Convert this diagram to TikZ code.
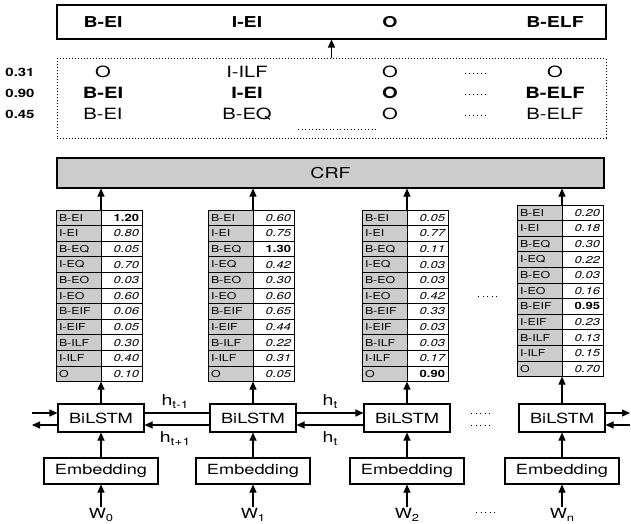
\documentclass[tikz,border=0pt]{standalone}
\usepackage{fontspec}
\setmainfont{TeX Gyre Heros}[FakeStretch=1.3]
\usetikzlibrary{arrows.meta}
\definecolor{cellgray}{HTML}{CCCCCC}
\newcommand{\fs}[1]{\fontsize{#1}{#1}\selectfont}
\begin{document}
\begin{tikzpicture}[x=1pt,y=-1pt,
  arr/.style={-{Triangle[length=8pt,width=7pt]}, line width=1.1pt},
  plainline/.style={line width=1.1pt},
  boxed/.style={draw, line width=1.1pt, inner sep=0pt},
  lcell/.style={draw, line width=0.8pt, fill=cellgray, inner xsep=3pt, inner ysep=0pt,
     text width=39pt, align=left, minimum height=15.6pt, font=\fs{9.5}},
  vcell/.style={draw, line width=0.8pt, fill=white, inner xsep=3pt, inner ysep=0pt,
     text width=35pt, align=right, minimum height=15.6pt, font=\fs{10}},
  ell/.style={line width=1pt, dash pattern=on 1pt off 3.5pt},
  toplbl/.style={font=\fs{15}\bfseries, inner sep=0pt},
  rowlbl/.style={font=\fs{15.5}, inner sep=0pt},
  score/.style={font=\fs{11.5}\bfseries, inner sep=0pt},
  lstm/.style={boxed, minimum width=86pt, minimum height=28pt, font=\fs{14}},
  emb/.style={boxed, minimum width=114pt, minimum height=26pt, font=\fs{14}},
  wlbl/.style={font=\fs{14}, inner sep=1pt},
  hlbl/.style={font=\fs{15}, inner sep=0pt}
]
\useasboundingbox (0,0) rectangle (631,524);

% ---------- output box ----------
\node[boxed, minimum width=549pt, minimum height=34pt] (top) at (331.5,22) {};
\node[toplbl] (o1) at (103,22) {B-EI};
\node[toplbl] (o2) at (247,22) {I-EI};
\node[toplbl] (o3) at (390,22) {O};
\node[toplbl] (o4) at (555,22) {B-ELF};

% ---------- candidate paths ----------
\node[draw, dotted, line width=1pt, minimum width=549pt, minimum height=79pt, inner sep=0pt] (beam) at (331.5,98.5) {};
\draw[arr] (beam.north) -- (top.south);

\node[score] (s1) at (20,72) {0.31};
\node[score] (s2) at (20,93) {0.90};
\node[score] (s3) at (20,114) {0.45};

\node[rowlbl] (r11) at (103,72) {O};
\node[rowlbl] (r12) at (247,72) {I-ILF};
\node[rowlbl] (r13) at (390,72) {O};
\node[rowlbl] (r14) at (555,72) {O};
\node[rowlbl, font=\fs{15.5}\bfseries] (r21) at (103,93) {B-EI};
\node[rowlbl, font=\fs{15.5}\bfseries] (r22) at (247,93) {I-EI};
\node[rowlbl, font=\fs{15.5}\bfseries] (r23) at (390,93) {O};
\node[rowlbl, font=\fs{15.5}\bfseries] (r24) at (555,93) {B-ELF};
\node[rowlbl] (r31) at (103,114) {B-EI};
\node[rowlbl] (r32) at (247,114) {B-EQ};
\node[rowlbl] (r33) at (390,114) {O};
\node[rowlbl] (r34) at (555,114) {B-ELF};

\foreach \yy in {72,93,114} \draw[line width=0.9pt, dash pattern=on 1pt off 3pt] (465,\yy+1) -- (487,\yy+1);
\draw[line width=0.9pt, dash pattern=on 1pt off 2.5pt] (298,129) -- (376,129);

% ---------- CRF ----------
\node[boxed, fill=cellgray, minimum width=547pt, minimum height=30pt, font=\fs{15}] (crf) at (330.5,173) {CRF};

% ---------- tables ----------
\foreach \k/\c/\t/\b/\vals in {
   1/101/210/1/{1.20,0.80,0.05,0.70,0.03,0.60,0.06,0.05,0.30,0.40,0.10},
   2/253/210/3/{0.60,0.75,1.30,0.42,0.30,0.60,0.65,0.44,0.22,0.31,0.05},
   3/407/210/11/{0.05,0.77,0.11,0.03,0.03,0.42,0.33,0.03,0.03,0.17,0.90},
   4/562/205/7/{0.20,0.18,0.30,0.22,0.03,0.16,0.95,0.23,0.13,0.15,0.70}} {
  \foreach \lab [count=\i] in {B-EI,I-EI,B-EQ,I-EQ,B-EO,I-EO,B-EIF,I-EIF,B-ILF,I-ILF,O} {
    \node[lcell] (L\k-\i) at (\c-22.5,\t+\i*15.6-7.8) {\lab};
  }
  \foreach \v [count=\i] in \vals {
    \ifnum\i=\b
      \node[vcell] (V\k-\i) at (\c+20.5,\t+\i*15.6-7.8) {\bfseries\v};
    \else
      \node[vcell] (V\k-\i) at (\c+20.5,\t+\i*15.6-7.8) {\itshape\v};
    \fi
  }
  \coordinate (tt\k) at (\c,\t);
  \coordinate (tb\k) at (\c,\t+171.6);
}
\draw[ell] (478,296) -- (500,296);

% ---------- BiLSTM / Embedding / words ----------
\foreach \k/\c/\w in {1/101/0,2/253/1,3/407/2,4/562/n} {
  \node[lstm] (bi\k) at (\c,418) {BiLSTM};
  \node[emb] (em\k) at (\c,471) {Embedding};
  \node[wlbl] (w\k) at (\c,515) {W\raisebox{-2.5pt}{\fs{10}\w}};
  \draw[arr] (w\k) -- (em\k);
  \draw[arr] (em\k) -- (bi\k);
  \draw[arr] (bi\k.north) -- (tb\k);
  \draw[arr] (tt\k) -- (tt\k |- crf.south);
}
\draw[ell] (476,512) -- (498,512);

% horizontal connections
\coordinate (inL) at (32,413);
\coordinate (outL) at (32,425);
\coordinate (inR) at (630,413);
\coordinate (outR) at (630,425);
\draw[arr] (inL) -- (inL -| bi1.west);
\draw[arr] (bi1.west |- outL) -- (outL);
\draw[plainline] (bi1.east |- inL) -- (bi2.west |- inL);
\draw[arr] (bi2.west |- outL) -- (bi1.east |- outL);
\draw[arr] (bi2.east |- inL) -- (bi3.west |- inL);
\draw[arr] (bi3.west |- outL) -- (bi2.east |- outL);
\draw[arr] (bi4.east |- inR) -- (inR);
\draw[arr] (outR) -- (bi4.east |- outR);
\draw[ell] (471,413) -- (493,413);
\draw[ell] (471,425) -- (493,425);

\node[hlbl] (h1) at (175,402) {h\raisebox{-3pt}{\fs{10.5}t-1}};
\node[hlbl] (h2) at (175,439) {h\raisebox{-3pt}{\fs{10.5}t+1}};
\node[hlbl] (h3) at (330,402) {h\raisebox{-3pt}{\fs{10.5}t}};
\node[hlbl] (h4) at (330,439) {h\raisebox{-3pt}{\fs{10.5}t}};
\end{tikzpicture}
\end{document}
